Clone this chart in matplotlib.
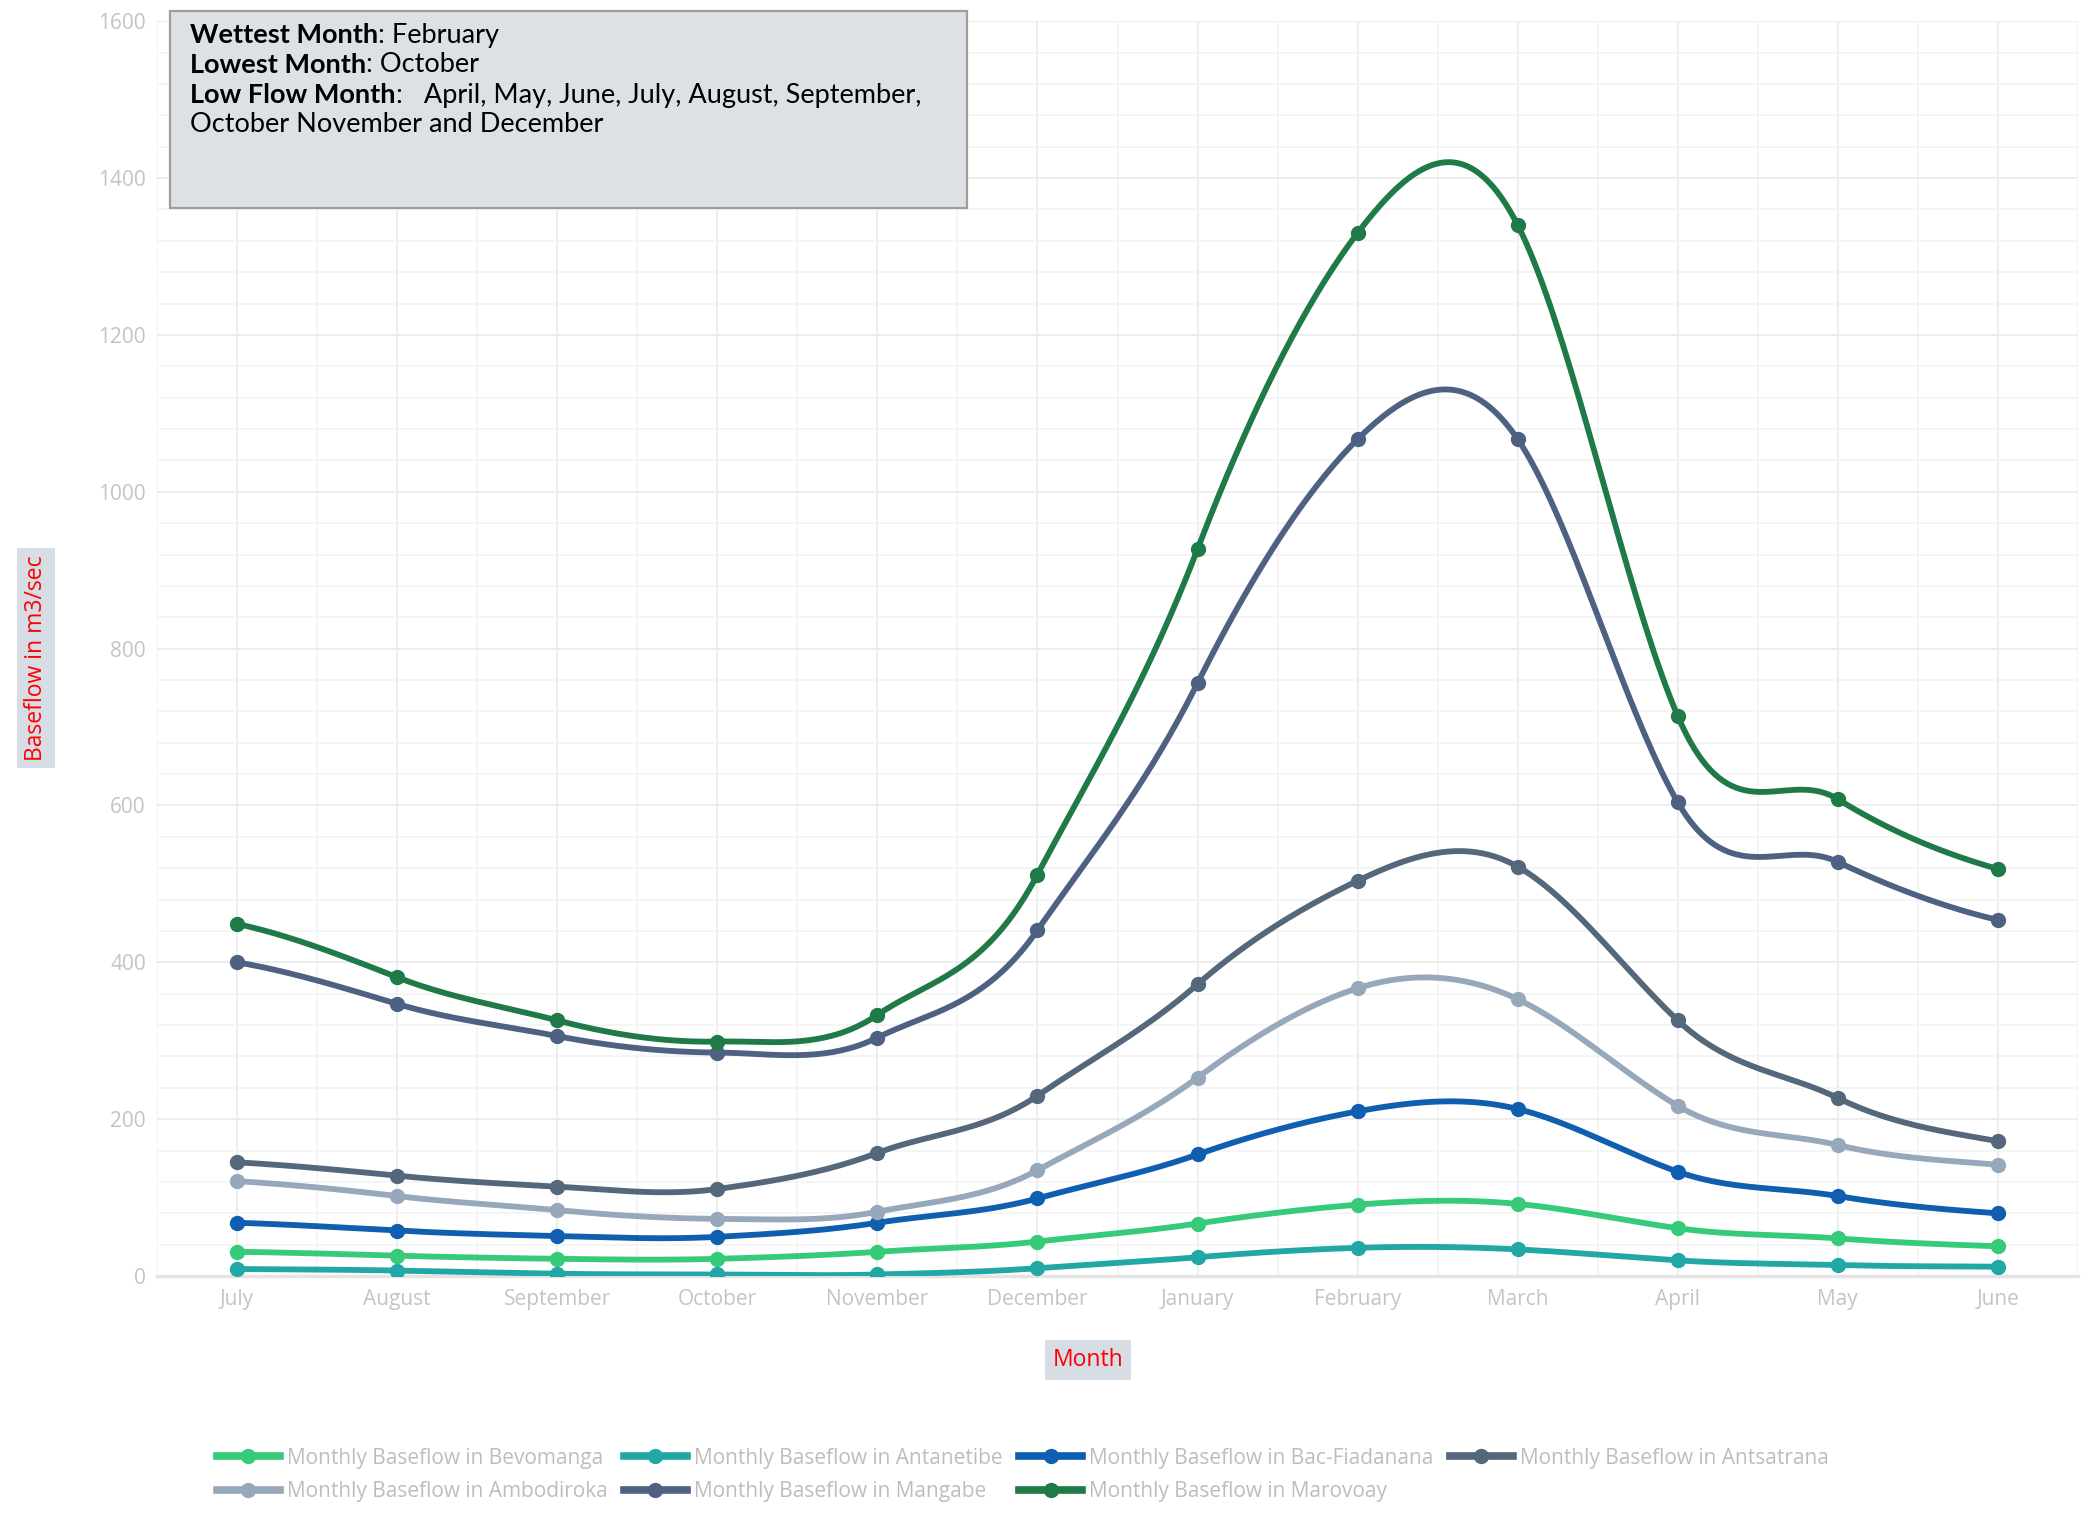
import numpy as np
import matplotlib
matplotlib.use("Agg")
import matplotlib.pyplot as plt
from matplotlib.patches import Rectangle
from matplotlib.lines import Line2D

months = ["July", "August", "September", "October", "November", "December",
          "January", "February", "March", "April", "May", "June"]

bevomanga     = [31, 26, 22, 22, 31, 44, 67, 91, 92, 61, 48, 38]
antanetibe    = [9, 7, 3, 2, 2, 10, 24, 36, 34, 20, 14, 12]
bac_fiadanana = [68, 58, 51, 50, 68, 99, 155, 210, 213, 133, 102, 80]
antsatrana    = [145, 128, 114, 111, 157, 230, 372, 504, 522, 326, 227, 172]
ambodiroka    = [121, 102, 84, 73, 82, 135, 253, 367, 353, 217, 167, 142]
mangabe       = [400, 347, 306, 285, 304, 441, 756, 1067, 1067, 604, 528, 454]
marovoay      = [449, 381, 326, 299, 333, 512, 927, 1330, 1340, 714, 608, 519]

series = [
    ("Monthly Baseflow in Bevomanga", bevomanga, "#35cb79"),
    ("Monthly Baseflow in Antanetibe", antanetibe, "#22a7a7"),
    ("Monthly Baseflow in Bac-Fiadanana", bac_fiadanana, "#0f5eb0"),
    ("Monthly Baseflow in Antsatrana", antsatrana, "#55677b"),
    ("Monthly Baseflow in Ambodiroka", ambodiroka, "#98a8bb"),
    ("Monthly Baseflow in Mangabe", mangabe, "#4f6182"),
    ("Monthly Baseflow in Marovoay", marovoay, "#1f7a48"),
]


def spline(y, k=0.65, n=40):
    # cardinal spline through the points, uniform x
    y = np.asarray(y, float)
    m = np.zeros_like(y)
    m[1:-1] = k * (y[2:] - y[:-2])
    m[0] = k * (y[1] - y[0])
    m[-1] = k * (y[-1] - y[-2])
    xs, ys = [], []
    t = np.linspace(0, 1, n)
    h00 = 2*t**3 - 3*t**2 + 1
    h10 = t**3 - 2*t**2 + t
    h01 = -2*t**3 + 3*t**2
    h11 = t**3 - t**2
    for i in range(len(y) - 1):
        xs.append(i + t)
        ys.append(h00*y[i] + h10*m[i] + h01*y[i+1] + h11*m[i+1])
    return np.concatenate(xs), np.concatenate(ys)


fig = plt.figure(figsize=(21, 15.13), dpi=100)
ax = fig.add_axes([0.0748, 0.1566, 0.9147, 0.8294])

x = np.arange(len(months))
for label, vals, col in series:
    sx, sy = spline(vals)
    ax.plot(sx, sy, color=col, lw=4.2, solid_capstyle="round", zorder=3)
    ax.plot(x, vals, "o", color=col, ms=10, zorder=4)

ax.set_xlim(-0.5, 11.5)
ax.set_ylim(0, 1600)
ax.set_xticks(x)
ax.set_xticklabels(months)
ax.set_xticks(np.arange(-0.5, 12, 1), minor=True)
ax.set_yticks(np.arange(0, 1601, 200))
ax.set_yticks(np.arange(0, 1601, 40), minor=True)
ax.grid(which="major", color="#ececec", lw=1.3)
ax.grid(which="minor", color="#f3f3f3", lw=1.1)
ax.set_axisbelow(True)
for s in ["top", "right", "left"]:
    ax.spines[s].set_visible(False)
ax.spines["bottom"].set_color("#e4e4e4")
ax.spines["bottom"].set_linewidth(2.5)
ax.tick_params(which="both", length=0)
ax.tick_params(axis="x", pad=9, labelsize=15, labelcolor="#c4c4c4")
ax.tick_params(axis="y", pad=8, labelsize=15, labelcolor="#c4c4c4")
for t in ax.get_xticklabels() + ax.get_yticklabels():
    t.set_fontfamily("Open Sans")

# axis titles with grey background
fig.text(0.0171, 1 - 658 / 1513, "Baseflow in m3/sec", rotation=90, color="red",
         fontsize=16.5, family="Open Sans", ha="center", va="center",
         bbox=dict(boxstyle="square,pad=0.3", fc="#d6dde5", ec="none"))
fig.text(1088 / 2100, 1 - 1360 / 1513, "Month", color="red", fontsize=16.5,
         family="Open Sans", ha="center", va="center",
         bbox=dict(boxstyle="square,pad=0.35", fc="#d6dde5", ec="none"))

# info box
box = Rectangle((170 / 2100, 1 - 208 / 1513), 797 / 2100, 197 / 1513,
                transform=fig.transFigure, fc="#dde1e5", ec="#9d9d9d", lw=1.6, zorder=5)
fig.add_artist(box)

lines = [("Wettest Month", ": February"),
         ("Lowest Month", ": October"),
         ("Low Flow Month", ":   April, May, June, July, August, September,"),
         (None, "October November and December")]
renderer = fig.canvas.get_renderer()
x0 = 190 / 2100
for i, (b, rest) in enumerate(lines):
    yy = 1 - (35 + 30 * i) / 1513
    xx = x0
    if b:
        tb = fig.text(xx, yy, b, fontsize=19.5, family="Lato", weight="bold",
                      va="center", ha="left", zorder=6)
        bb = tb.get_window_extent(renderer)
        xx = bb.x1 / fig.bbox.width
    fig.text(xx, yy, rest, fontsize=19.5, family="Lato", va="center", ha="left", zorder=6)

# legend, reordered so that it reads row by row
handles = {lab: Line2D([], [], color=col, lw=5.5, marker="o", ms=10) for lab, _, col in series}
order = [0, 4, 1, 5, 2, 6, 3]
labs = [series[i][0] for i in order]
leg = fig.legend([handles[l] for l in labs], labs, ncol=4, loc="center left",
                 bbox_to_anchor=(217 / 2100, 1 - 1475 / 1513), frameon=False,
                 borderpad=0, borderaxespad=0, handlelength=3.0, handletextpad=0.35,
                 columnspacing=0.8, labelspacing=0.6,
                 prop={"family": "Open Sans", "size": 15})
for t in leg.get_texts():
    t.set_color("#bdbdbd")

fig.savefig("out.png", dpi=100)
